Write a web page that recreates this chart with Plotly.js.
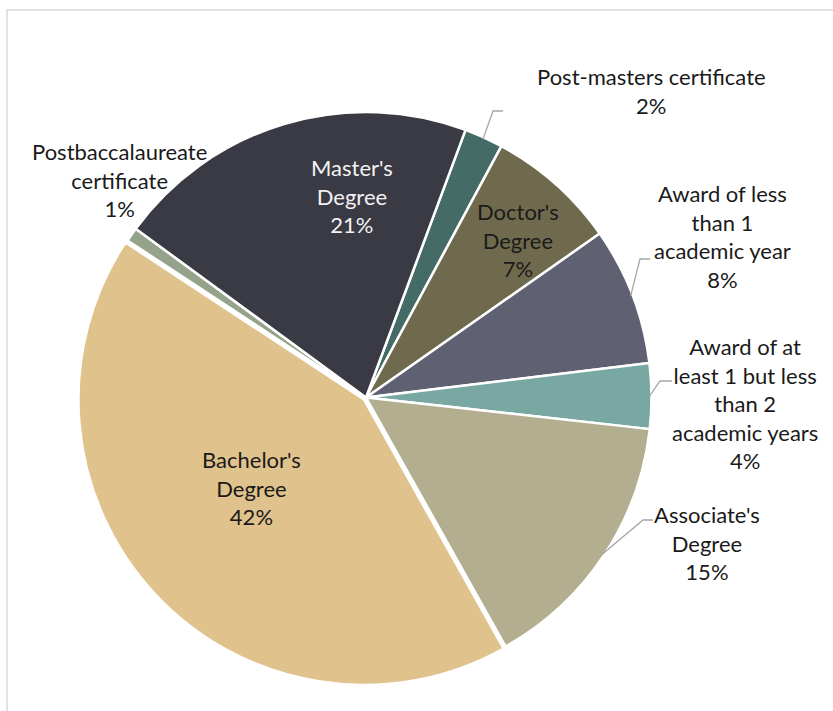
<!DOCTYPE html>
<html><head><meta charset="utf-8">
<script src="https://cdn.plot.ly/plotly-3.0.1.min.js"></script>
<style>html,body{margin:0;padding:0;background:#fff;} #chart{width:833px;height:711px;}</style>
</head><body><div id="chart"></div>
<script>
// ---- data ----
const categories = ["Post-masters certificate", "Doctor's Degree", "Award of less than 1 academic year",
  "Award of at least 1 but less than 2 academic years", "Associate's Degree", "Bachelor's Degree",
  "Postbaccalaureate certificate", "Master's Degree"];
const labelLines = ["Post-masters certificate", "Doctor's<br>Degree", "Award of less<br>than 1<br>academic year",
  "Award of at<br>least 1 but less<br>than 2<br>academic years", "Associate's<br>Degree", "Bachelor's<br>Degree",
  "Postbaccalaureate<br>certificate", "Master's<br>Degree"];
const shares = [2.2, 7.4, 7.8, 3.7, 15.1, 42.4, 0.8, 20.6];

// ---- styles / layout ----
const colors = ["#456B66", "#6F6A4D", "#5F6172", "#79A7A1", "#B2AE8F", "#E0C28D", "#95A38A", "#3A3A45"];
const textColors = ["#1a1a1a", "#1a1a1a", "#1a1a1a", "#1a1a1a", "#1a1a1a", "#1a1a1a", "#1a1a1a", "#F2F2F2"];
const labelPos = [[651, 91], [518, 240], [722, 237], [745, 403], [707, 543], [252, 488], [119, 180], [352, 196]];
const leaderElbows = {0: [[493, 111], [503, 111]], 2: [[640, 259], [650, 259]], 3: [[660, 381], [672, 381]], 4: [[643, 520], [653, 520]]};
const pulls = [0, 0, 0, 0, 0, 0.01, 0, 0];
const W = 833, H = 711, CX = 366, CY = 397.5, R = 285.5, ROT = 20.4;
const maxPull = Math.max(...pulls);
const half = R * (1 + maxPull);
const px = x => x / W, py = y => 1 - y / H;

const total = shares.reduce((a, b) => a + b, 0);
const annotations = categories.map((c, i) => ({
  x: px(labelPos[i][0]), y: py(labelPos[i][1]), xref: 'paper', yref: 'paper',
  xanchor: 'center', yanchor: 'middle', showarrow: false, align: 'center',
  text: labelLines[i] + '<br>' + Math.round(shares[i] / total * 100) + '%',
  font: {family: 'Lato, Calibri, sans-serif', size: 22, color: textColors[i]}
}));

const shapes = [{type: 'rect', xref: 'paper', yref: 'paper', x0: px(7), y0: -0.05, x1: 1.05, y1: py(10),
  line: {color: '#D9D9D9', width: 1.5}}];
let cum = 0;
const mids = shares.map(v => { const m = ROT + 360 * (cum + v / 2) / total; cum += v; return m; });
Object.keys(leaderElbows).forEach(k => {
  const a = mids[k] * Math.PI / 180;
  const sx = CX + (R - 2) * Math.sin(a), sy = CY - (R - 2) * Math.cos(a);
  const pts = [[sx, sy]].concat(leaderElbows[k]);
  const d = pts.map((p, j) => (j ? 'L' : 'M') + px(p[0]) + ',' + py(p[1])).join(' ');
  shapes.push({type: 'path', xref: 'paper', yref: 'paper', path: d, line: {color: '#A6A6A6', width: 1.3}});
});

const trace = {
  type: 'pie', labels: categories, values: shares, sort: false, direction: 'clockwise', rotation: ROT,
  marker: {colors: colors, line: {color: '#FFFFFF', width: 2.5}},
  pull: pulls, textinfo: 'none', hoverinfo: 'label+percent', showlegend: false,
  domain: {x: [px(CX - half), px(CX + half)], y: [py(CY + half), py(CY - half)]}
};

Plotly.newPlot('chart', [trace], {
  width: W, height: H, margin: {l: 0, r: 0, t: 0, b: 0},
  paper_bgcolor: '#FFFFFF', plot_bgcolor: '#FFFFFF', showlegend: false,
  annotations: annotations, shapes: shapes
}, {staticPlot: true, displayModeBar: false});
</script>
</body></html>
